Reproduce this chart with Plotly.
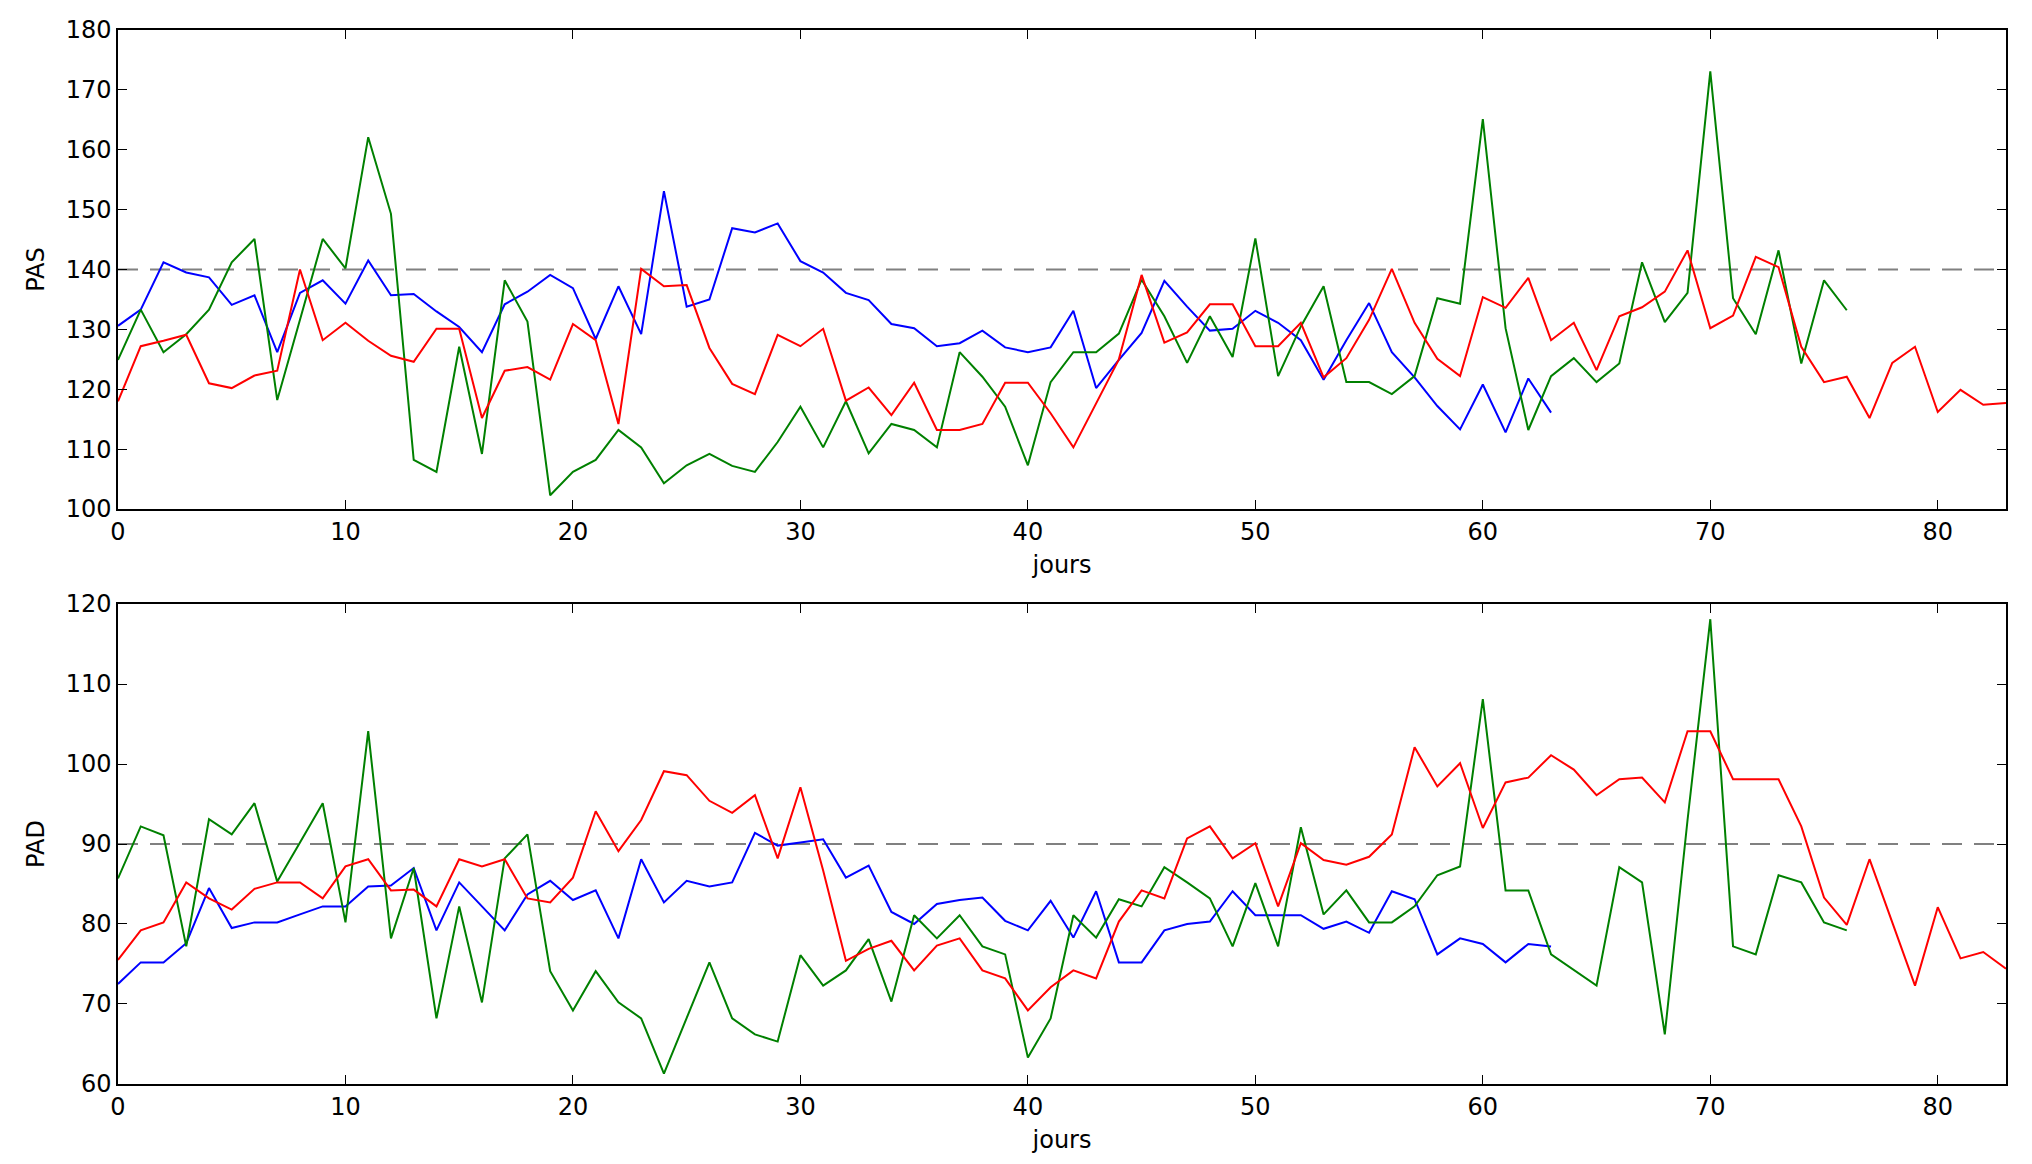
import plotly.graph_objects as go
from plotly.subplots import make_subplots

# PAS (systolic) per day
pas_blue = [130.6, 133.3, 141.2, 139.5, 138.7, 134.1, 135.7, 126.2, 136.1, 138.2,
            134.3, 141.5, 135.7, 135.9, 133.0, 130.4, 126.2, 134.2, 136.3, 139.1,
            136.9, 128.4, 137.2, 129.2, 153.1, 133.8, 135.0, 146.9, 146.2, 147.7,
            141.4, 139.5, 136.1, 134.9, 130.9, 130.2, 127.2, 127.7, 129.8, 127.0,
            126.2, 127.0, 133.1, 120.2, 124.9, 129.4, 138.1, 133.8, 129.8, 130.1,
            133.1, 131.1, 128.2, 121.6, 128.2, 134.4, 126.2, 122.0, 117.2, 113.3,
            120.8, 112.8, 121.8, 116.1]
pas_green = [124.9, 133.3, 126.2, 129.2, 133.3, 141.2, 145.1, 118.2, 131.6, 145.1,
             140.2, 162.1, 149.3, 108.2, 106.2, 127.1, 109.2, 138.2, 131.3, 102.3,
             106.2, 108.2, 113.2, 110.3, 104.3, 107.3, 109.2, 107.2, 106.2, 111.2,
             117.1, 110.3, 118.0, 109.3, 114.2, 113.2, 110.3, 126.2, 122.1, 117.1,
             107.3, 121.2, 126.2, 126.2, 129.3, 138.3, 132.2, 124.4, 132.2, 125.4,
             145.2, 122.2, 130.5, 137.2, 121.2, 121.2, 119.2, 122.2, 135.2, 134.3,
             165.1, 130.2, 113.2, 122.2, 125.2, 121.2, 124.3, 141.2, 131.2, 136.1,
             173.1, 135.2, 129.2, 143.2, 124.3, 138.2, 133.2]
pas_red = [118.0, 127.2, 128.1, 129.1, 121.0, 120.2, 122.3, 123.1, 140.0, 128.2,
           131.1, 128.1, 125.6, 124.6, 130.1, 130.1, 115.2, 123.1, 123.7, 121.6,
           130.9, 128.2, 114.2, 140.1, 137.2, 137.4, 126.9, 120.9, 119.2, 129.1,
           127.2, 130.1, 118.1, 120.3, 115.7, 121.1, 113.2, 113.2, 114.2, 121.1,
           121.1, 116.0, 110.3, 117.7, 125.0, 139.1, 127.8, 129.5, 134.2, 134.2,
           127.2, 127.2, 131.1, 122.0, 125.2, 131.6, 140.1, 131.1, 125.1, 122.2,
           135.4, 133.6, 138.6, 128.2, 131.1, 123.2, 132.2, 133.7, 136.3, 143.2,
           130.2, 132.3, 142.1, 140.4, 127.1, 121.2, 122.1, 115.2, 124.4, 127.1,
           116.2, 119.9, 117.4, 117.7]

# PAD (diastolic) per day
pad_blue = [72.5, 75.2, 75.2, 77.6, 84.5, 79.5, 80.2, 80.2, 81.2, 82.2,
            82.2, 84.7, 84.8, 87.0, 79.2, 85.2, 82.2, 79.2, 83.7, 85.4,
            83.0, 84.2, 78.2, 88.1, 82.7, 85.4, 84.7, 85.2, 91.4, 89.8,
            90.2, 90.6, 85.8, 87.3, 81.5, 80.0, 82.5, 83.0, 83.3, 80.4,
            79.2, 82.9, 78.3, 84.1, 75.2, 75.2, 79.2, 80.0, 80.3, 84.1,
            81.1, 81.1, 81.1, 79.4, 80.3, 78.9, 84.1, 83.1, 76.2, 78.2,
            77.5, 75.2, 77.5, 77.2]
pad_green = [85.7, 92.2, 91.1, 77.2, 93.1, 91.2, 95.1, 85.3, 90.2, 95.1,
             80.2, 104.1, 78.2, 87.0, 68.2, 82.2, 70.2, 88.2, 91.2, 74.1,
             69.2, 74.1, 70.2, 68.2, 61.3, 68.2, 75.2, 68.2, 66.2, 65.3,
             76.1, 72.3, 74.2, 78.1, 70.3, 81.1, 78.2, 81.1, 77.2, 76.2,
             63.3, 68.2, 81.1, 78.3, 83.1, 82.2, 87.1, 85.2, 83.2, 77.2,
             85.1, 77.2, 92.1, 81.2, 84.2, 80.2, 80.2, 82.2, 86.1, 87.2,
             108.1, 84.2, 84.2, 76.2, 74.2, 72.3, 87.1, 85.2, 66.2, 93.0,
             118.1, 77.2, 76.2, 86.1, 85.2, 80.2, 79.2]
pad_red = [75.5, 79.2, 80.2, 85.2, 83.2, 81.8, 84.4, 85.2, 85.2, 83.2,
           87.2, 88.1, 84.2, 84.3, 82.2, 88.1, 87.2, 88.1, 83.2, 82.7,
           85.8, 94.1, 89.1, 93.0, 99.1, 98.6, 95.4, 93.9, 96.1, 88.2,
           97.1, 86.7, 75.4, 76.9, 77.9, 74.2, 77.3, 78.2, 74.2, 73.2,
           69.2, 72.1, 74.2, 73.2, 80.3, 84.2, 83.2, 90.7, 92.2, 88.2,
           90.1, 82.2, 90.1, 88.0, 87.4, 88.4, 91.2, 102.1, 97.2, 100.1,
           92.0, 97.7, 98.3, 101.1, 99.3, 96.1, 98.1, 98.3, 95.2, 104.1,
           104.1, 98.1, 98.1, 98.1, 92.2, 83.3, 79.9, 88.1, 80.2, 72.3,
           82.1, 75.7, 76.5, 74.4]

pas_limit = 140
pad_limit = 90

colors = {'blue': '#0000ff', 'green': '#008000', 'red': '#ff0000'}
font = dict(family="DejaVu Sans", size=24, color="black")

fig = make_subplots(rows=2, cols=1)

for row, series in ((1, [pas_blue, pas_green, pas_red]), (2, [pad_blue, pad_green, pad_red])):
	for ys, c in zip(series, ['blue', 'green', 'red']):
		fig.add_trace(go.Scatter(x=list(range(len(ys))), y=ys, mode='lines',
			line=dict(color=colors[c], width=2), showlegend=False), row=row, col=1)

fig.add_hline(y=pas_limit, row=1, col=1, line=dict(color='gray', width=2, dash='20px,12px'), layer='below')
fig.add_hline(y=pad_limit, row=2, col=1, line=dict(color='gray', width=2, dash='20px,12px'), layer='below')

axis_style = dict(showline=True, linecolor='black', linewidth=1.5, mirror='ticks',
	ticks='inside', ticklen=9, tickcolor='black', showgrid=False, zeroline=False,
	tickfont=font, automargin=False)

fig.update_xaxes(range=[0, 83], tick0=0, dtick=10, title_text='jours',
	title_font=font, title_standoff=12, **axis_style)
fig.update_yaxes(dtick=10, title_font=font, title_standoff=14, **axis_style)
fig.update_yaxes(range=[100, 180], title_text='PAS', row=1, col=1)
fig.update_yaxes(range=[60, 120], title_text='PAD', row=2, col=1)

# the page body adds 8px on the left and top, so margins are shifted to compensate
fig.update_layout(
	width=2032, height=1164,
	margin=dict(l=110, r=34, t=22, b=88),
	paper_bgcolor='white', plot_bgcolor='white',
	font=font,
	yaxis=dict(domain=[0.5455, 1.0]),
	yaxis2=dict(domain=[0.0, 0.4554]),
)

fig.write_html("out.html")
